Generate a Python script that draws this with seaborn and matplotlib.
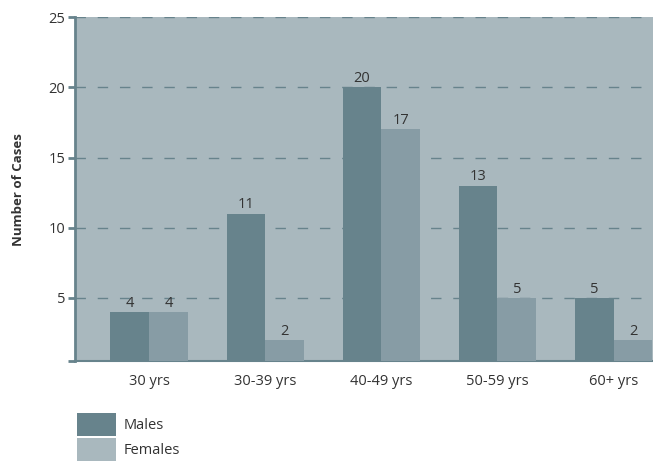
import pandas as pd
import seaborn as sns
import matplotlib.pyplot as plt
from matplotlib.patches import Patch

# Datos
age_groups = ["30 yrs", "30-39 yrs", "40-49 yrs", "50-59 yrs", "60+ yrs"]
males = [4, 11, 20, 13, 5]
females = [4, 2, 17, 5, 2]

df = pd.DataFrame({
    "Age": age_groups * 2,
    "Cases": males + females,
    "Sex": ["Males"] * len(males) + ["Females"] * len(females),
})

c_male = "#67838c"
c_female = "#879ca5"
c_bg = "#a9b8be"
c_text = "#333333"

sns.set_style("white")
plt.rcParams["font.family"] = ["Open Sans", "DejaVu Sans"]

fig = plt.figure(figsize=(6.53, 4.63), dpi=100)
ax = fig.add_axes([0.115, 0.22, 0.885, 0.743])
ax.set_facecolor(c_bg)

sns.barplot(data=df, x="Age", y="Cases", hue="Sex", order=age_groups,
            palette={"Males": c_male, "Females": c_female},
            width=0.67, gap=0, saturation=1, legend=False, ax=ax,
            linewidth=0, zorder=3)

for cont in ax.containers:
    ax.bar_label(cont, padding=1, fontsize=10.5, color=c_text)

ax.set_ylim(0.5, 25)
ax.set_xlim(-0.64, 4.34)
ax.set_yticks([5, 10, 15, 20, 25])
ax.set_yticks([0.5], minor=True)
ax.yaxis.grid(True, which="major", linestyle=(0, (7.5, 8.5)), color=c_male,
              linewidth=1)
ax.set_axisbelow(True)

for s in ["top", "right"]:
    ax.spines[s].set_visible(False)
ax.spines["left"].set_color(c_male)
ax.spines["left"].set_linewidth(2)
ax.spines["bottom"].set_color(c_male)
ax.spines["bottom"].set_linewidth(1.5)

ax.tick_params(axis="y", which="both", length=5, width=2, color=c_male,
               labelsize=10.5, labelcolor=c_text, pad=2, left=True)
ax.tick_params(axis="x", length=0, labelsize=10.5, labelcolor=c_text, pad=9)
ax.set_xlabel("")
ax.set_ylabel("Number of Cases", fontsize=9.5, fontweight="bold",
              color=c_text, labelpad=17)

handles = [Patch(facecolor=c_male, edgecolor="none", label="Males"),
           Patch(facecolor=c_bg, edgecolor="none", label="Females")]
fig.legend(handles=handles, loc="upper left", bbox_to_anchor=(0.118, 0.108),
           frameon=False, fontsize=10.5, handlelength=2.67, handleheight=2.0,
           labelspacing=0.2, handletextpad=0.5, labelcolor=c_text,
           borderaxespad=0, borderpad=0)

fig.savefig("out.png", dpi=100)
